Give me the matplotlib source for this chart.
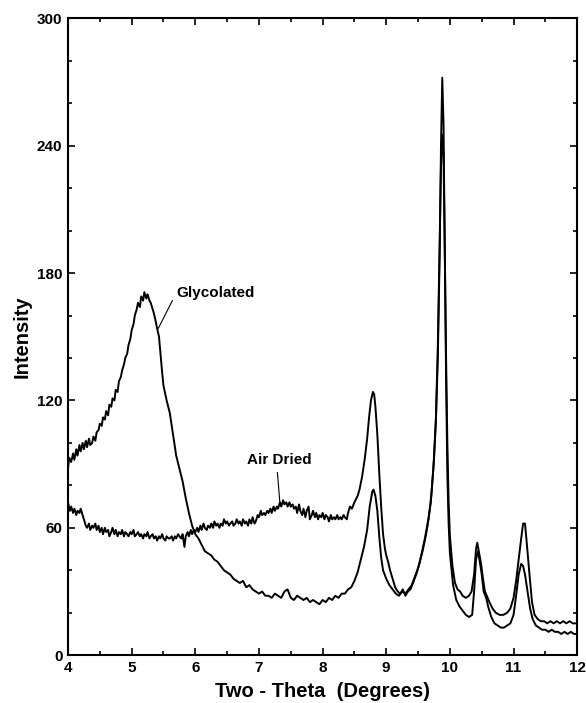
import matplotlib
matplotlib.use("Agg")
import matplotlib.pyplot as plt
from matplotlib.ticker import MultipleLocator

plt.rcParams['font.family'] = ['Liberation Sans', 'DejaVu Sans']
plt.rcParams['font.weight'] = 'bold'

# glycolated trace (two-theta, intensity)
glyc_x = [4.00, 4.02, 4.05, 4.08, 4.10, 4.13, 4.15, 4.18, 4.20, 4.23, 4.25, 4.28, 4.30, 4.33, 4.35, 4.38,
          4.40, 4.43, 4.45, 4.48, 4.50, 4.53, 4.55, 4.58, 4.60, 4.63, 4.65, 4.68, 4.70, 4.73, 4.75, 4.78,
          4.80, 4.83, 4.85, 4.88, 4.90, 4.93, 4.95, 4.98, 5.00, 5.03, 5.05, 5.08, 5.10, 5.13, 5.15, 5.18,
          5.20, 5.23, 5.25, 5.28, 5.30, 5.33, 5.35, 5.38, 5.40, 5.43, 5.45, 5.48, 5.50, 5.55, 5.60, 5.65,
          5.70, 5.75, 5.80, 5.85, 5.90, 5.95, 6.00, 6.05, 6.10, 6.15, 6.20, 6.25, 6.30, 6.35, 6.40, 6.45,
          6.50, 6.55, 6.60, 6.65, 6.70, 6.75, 6.80, 6.85, 6.90, 6.95, 7.00, 7.05, 7.10, 7.15, 7.20, 7.25,
          7.30, 7.35, 7.40, 7.45, 7.50, 7.55, 7.60, 7.65, 7.70, 7.75, 7.80, 7.85, 7.90, 7.95, 8.00, 8.05,
          8.10, 8.15, 8.20, 8.25, 8.30, 8.35, 8.40, 8.45, 8.50, 8.55, 8.60, 8.65, 8.70, 8.74, 8.78, 8.80,
          8.83, 8.86, 8.89, 8.92, 8.95, 9.00, 9.05, 9.10, 9.15, 9.20, 9.25, 9.30, 9.35, 9.40, 9.45, 9.50,
          9.55, 9.60, 9.65, 9.70, 9.74, 9.78, 9.81, 9.84, 9.86, 9.88, 9.90, 9.92, 9.94, 9.96, 9.98, 10.00,
          10.05, 10.10, 10.15, 10.20, 10.25, 10.30, 10.35, 10.38, 10.41, 10.44, 10.47, 10.50, 10.53, 10.57,
          10.60, 10.65, 10.70, 10.75, 10.80, 10.85, 10.90, 10.95, 11.00, 11.04, 11.08, 11.12, 11.15, 11.18,
          11.22, 11.26, 11.30, 11.35, 11.40, 11.45, 11.50, 11.55, 11.60, 11.65, 11.70, 11.75, 11.80, 11.85,
          11.90, 11.95, 12.00]
glyc_y = [88, 93, 91, 95, 92, 97, 94, 99, 96, 100, 97, 101, 98, 102, 99, 100,
          103, 101, 105, 106, 109, 108, 112, 111, 115, 113, 118, 117, 121, 120, 125, 124,
          129, 131, 134, 137, 140, 142, 146, 149, 153, 156, 160, 163, 166, 164, 169, 167,
          171, 168, 170, 167, 166, 163, 161, 157, 154, 150, 143, 133, 127, 120, 114, 104,
          94, 88, 82, 74, 67, 61, 57, 55, 52, 49, 48, 47, 45, 44, 42, 40,
          39, 38, 36, 35, 34, 35, 32, 33, 31, 30, 29, 30, 28, 28, 27, 29,
          28, 27, 30, 31, 27, 26, 28, 27, 26, 27, 25, 26, 25, 24, 26, 25,
          27, 26, 28, 27, 29, 29, 31, 32, 35, 39, 45, 51, 59, 70, 77, 78,
          75, 68, 56, 46, 40, 36, 33, 31, 29, 28, 30, 29, 31, 33, 37, 41,
          47, 54, 62, 72, 88, 110, 140, 190, 240, 272, 250, 190, 130, 85, 62, 48,
          33, 26, 23, 21, 19, 18, 19, 30, 45, 49, 44, 38, 30, 27,
          23, 18, 15, 14, 13, 13, 14, 15, 19, 28, 38, 43, 42, 38,
          30, 22, 17, 14, 13, 12, 12, 11, 12, 11, 11, 10, 11, 10,
          11, 10, 10]

# air dried trace
air_x = [4.00, 4.03, 4.05, 4.08, 4.10, 4.13, 4.15, 4.18, 4.20, 4.23, 4.25, 4.28, 4.30, 4.33, 4.35, 4.38,
         4.40, 4.43, 4.45, 4.48, 4.50, 4.53, 4.55, 4.58, 4.60, 4.63, 4.65, 4.68, 4.70, 4.73, 4.75, 4.78,
         4.80, 4.83, 4.85, 4.88, 4.90, 4.93, 4.95, 4.98, 5.00, 5.03, 5.05, 5.08, 5.10, 5.13, 5.15, 5.18,
         5.20, 5.23, 5.25, 5.28, 5.30, 5.33, 5.35, 5.38, 5.40, 5.43, 5.45, 5.48, 5.50, 5.53, 5.55, 5.58,
         5.60, 5.63, 5.65, 5.68, 5.70, 5.73, 5.75, 5.78, 5.80, 5.83, 5.85, 5.88, 5.90, 5.93, 5.95, 5.98,
         6.00, 6.03, 6.05, 6.08, 6.10, 6.13, 6.15, 6.18, 6.20, 6.23, 6.25, 6.28, 6.30, 6.33, 6.35, 6.38,
         6.40, 6.43, 6.45, 6.48, 6.50, 6.53, 6.55, 6.58, 6.60, 6.63, 6.65, 6.68, 6.70, 6.73, 6.75, 6.78,
         6.80, 6.83, 6.85, 6.88, 6.90, 6.93, 6.95, 6.98, 7.00, 7.03, 7.05, 7.08, 7.10, 7.13, 7.15, 7.18,
         7.20, 7.23, 7.25, 7.28, 7.30, 7.33, 7.35, 7.38, 7.40, 7.43, 7.45, 7.48, 7.50, 7.53, 7.55, 7.58,
         7.60, 7.63, 7.65, 7.68, 7.70, 7.73, 7.75, 7.78, 7.80, 7.83, 7.85, 7.88, 7.90, 7.93, 7.95, 7.98,
         8.00, 8.03, 8.05, 8.08, 8.10, 8.13, 8.15, 8.18, 8.20, 8.23, 8.25, 8.28, 8.30, 8.33, 8.35, 8.38,
         8.40, 8.43, 8.46, 8.50, 8.55, 8.58, 8.62, 8.66, 8.70, 8.73, 8.76, 8.79, 8.81, 8.83, 8.86, 8.89,
         8.92, 8.95, 8.98, 9.00, 9.03, 9.06, 9.10, 9.14, 9.18, 9.22, 9.26, 9.30, 9.34, 9.38, 9.42, 9.47,
         9.52, 9.57, 9.62, 9.67, 9.71, 9.75, 9.78, 9.81, 9.84, 9.86, 9.88, 9.90, 9.92, 9.94, 9.96, 9.98,
         10.00, 10.04, 10.08, 10.12, 10.16, 10.20, 10.25, 10.30, 10.34, 10.38, 10.41, 10.43, 10.46, 10.49,
         10.52, 10.55, 10.58, 10.62, 10.67, 10.72, 10.78, 10.84, 10.90, 10.95, 11.00, 11.04, 11.08, 11.12,
         11.15, 11.18, 11.21, 11.25, 11.29, 11.33, 11.38, 11.43, 11.48, 11.53, 11.58, 11.63, 11.68, 11.73,
         11.78, 11.83, 11.88, 11.93, 12.00]
air_y = [72, 68, 70, 67, 69, 66, 68, 67, 69, 66, 64, 61, 60, 62, 59, 61,
         60, 62, 59, 61, 58, 60, 57, 60, 58, 59, 56, 58, 60, 57, 59, 56,
         58, 57, 59, 56, 58, 57, 56, 58, 57, 59, 56, 57, 58, 56, 57, 55,
         57, 56, 58, 55, 56, 57, 55, 56, 54, 56, 55, 57, 55, 54, 56, 55,
         55, 56, 54, 56, 55, 57, 56, 55, 57, 51, 56, 58, 56, 59, 57, 59,
         58, 60, 58, 61, 59, 62, 60, 59, 61, 60, 62, 60, 63, 61, 62, 60,
         62, 61, 64, 62, 63, 61, 62, 63, 61, 62, 64, 62, 63, 61, 64, 62,
         63, 61, 64, 62, 65, 62, 63, 66, 65, 68, 66, 67, 66, 68, 67, 69,
         67, 70, 68, 70, 69, 72, 70, 73, 71, 72, 70, 72, 70, 71, 69, 70,
         67, 71, 68, 66, 69, 65, 68, 70, 64, 66, 68, 65, 67, 64, 66, 65,
         67, 64, 66, 65, 63, 66, 64, 65, 64, 66, 64, 65, 64, 66, 65, 64,
         67, 70, 69, 72, 75, 78, 84, 92, 102, 112, 120, 124, 123, 117, 104, 86,
         70, 57, 50, 47, 44, 40, 36, 32, 30, 29, 31, 28, 30, 31, 34, 38,
         43, 49, 56, 65, 76, 92, 112, 145, 195, 230, 245, 235, 190, 140, 100, 72,
         56, 42, 34, 31, 30, 28, 27, 28, 30, 38, 50, 53, 48, 43,
         36, 30, 28, 25, 22, 20, 19, 19, 20, 22, 27, 35, 45, 55,
         62, 62, 52, 38, 25, 19, 17, 16, 16, 15, 16, 15, 16, 15,
         16, 15, 16, 15, 15]

fig = plt.figure(figsize=(5.86, 7.03), dpi=100)
ax = fig.add_axes([0.116, 0.068, 0.869, 0.906])

ax.plot(glyc_x, glyc_y, color='black', lw=1.4)
ax.plot(air_x, air_y, color='black', lw=1.4)

ax.set_xlim(4, 12)
ax.set_ylim(0, 300)
ax.xaxis.set_major_locator(MultipleLocator(1))
ax.xaxis.set_minor_locator(MultipleLocator(0.5))
ax.yaxis.set_major_locator(MultipleLocator(60))
ax.yaxis.set_minor_locator(MultipleLocator(20))
ax.tick_params(which='both', direction='in', top=True, right=True, labelsize=11, width=1.2)
ax.tick_params(which='major', length=5, pad=4)
ax.tick_params(which='minor', length=3)
for s in ax.spines.values():
    s.set_linewidth(1.5)
for lab in ax.get_xticklabels() + ax.get_yticklabels():
    lab.set_fontweight('bold')

ax.set_xlabel('Two - Theta  (Degrees)', fontsize=14.5, fontweight='bold')
ax.set_ylabel('Intensity', fontsize=14.5, fontweight='bold')
ax.xaxis.set_label_coords(0.5, -0.042)
ax.yaxis.set_label_coords(-0.071, 0.5)

ax.text(5.71, 170.5, 'Glycolated', fontsize=11, fontweight='bold', va='center', ha='left')
ax.plot([5.64, 5.42], [167, 154], color='black', lw=0.8)
ax.text(6.81, 92, 'Air Dried', fontsize=11, fontweight='bold', va='center', ha='left')
ax.plot([7.29, 7.33], [86, 71.5], color='black', lw=0.8)

fig.savefig('out.png', dpi=100)
